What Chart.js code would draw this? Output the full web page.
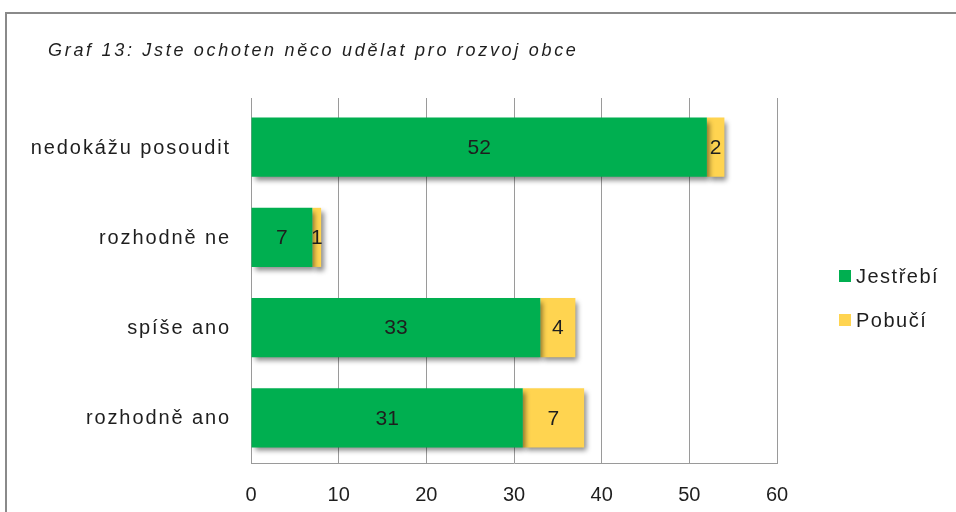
<!DOCTYPE html>
<html><head><meta charset="utf-8">
<script src="https://cdn.jsdelivr.net/npm/chart.js@4/dist/chart.umd.min.js"></script>
<style>
html,body{margin:0;padding:0;background:#fff;}
#wrap{position:relative;width:956px;height:512px;overflow:hidden;}
#frame{position:absolute;left:5px;top:12px;width:1000px;height:600px;border:2px solid #8a8a8a;box-sizing:border-box;}
canvas{position:absolute;left:0;top:0;}
</style></head>
<body><div id="wrap"><div id="frame"></div><canvas id="c" width="956" height="512"></canvas></div>
<script>
const titleText = 'Graf 13: Jste ochoten něco udělat pro rozvoj obce';
const categories = ['nedokážu posoudit', 'rozhodně ne', 'spíše ano', 'rozhodně ano'];
const seriesNames = ['Jestřebí', 'Pobučí'];
const jestrebi = [52, 7, 33, 31];
const pobuci = [2, 1, 4, 7];
const xTicks = [0, 10, 20, 30, 40, 50, 60];
const colors = ['#00AF50', '#FFD450'];
const FONT = '"Liberation Sans", Arial, sans-serif';
const TXT = '#1e1e1e';

function spaced(ctx, px) { if ('letterSpacing' in ctx) ctx.letterSpacing = px + 'px'; }

const shadowPlugin = {
  id: 'shadow',
  beforeDatasetDraw(chart) {
    const ctx = chart.ctx; ctx.save();
    ctx.shadowColor = 'rgba(0,0,0,0.45)';
    ctx.shadowOffsetX = 3; ctx.shadowOffsetY = 4; ctx.shadowBlur = 5;
  },
  afterDatasetDraw(chart) { chart.ctx.restore(); }
};
const labelPlugin = {
  id: 'vals',
  afterDatasetsDraw(chart) {
    const ctx = chart.ctx; ctx.save();
    ctx.font = '21px ' + FONT; ctx.fillStyle = TXT;
    ctx.textAlign = 'center'; ctx.textBaseline = 'middle';
    chart.data.datasets.forEach((ds, i) => {
      chart.getDatasetMeta(i).data.forEach((bar, j) => {
        const x = (bar.x + bar.base) / 2;
        ctx.fillText(String(ds.data[j]), x, bar.y + 1);
      });
    });
    ctx.restore();
  }
};
const decoPlugin = {
  id: 'deco',
  afterDraw(chart) {
    const ctx = chart.ctx; ctx.save();
    ctx.fillStyle = TXT; ctx.textBaseline = 'middle';
    // title
    ctx.font = 'italic 18px ' + FONT; ctx.textAlign = 'left';
    spaced(ctx, 2.7);
    ctx.fillText(titleText, 48, 51);
    // category labels via y scale
    ctx.font = '20px ' + FONT; ctx.textAlign = 'right';
    spaced(ctx, 1.9);
    const ys = chart.scales.y;
    categories.forEach((c, i) => {
      ctx.fillText(c, 231, ys.getPixelForTick(i) + 1);
    });
    // legend
    spaced(ctx, 1.5); ctx.textAlign = 'left';
    const ly = [276, 320];
    chart.data.datasets.forEach((ds, i) => {
      ctx.fillStyle = ds.backgroundColor;
      ctx.fillRect(839, ly[i] - 6, 12, 12);
      ctx.fillStyle = TXT;
      ctx.fillText(ds.label, 856, ly[i] + 1);
    });
    ctx.restore();
  }
};

new Chart(document.getElementById('c'), {
  type: 'bar',
  data: {
    labels: categories,
    datasets: [
      { label: seriesNames[0], data: jestrebi, backgroundColor: colors[0] },
      { label: seriesNames[1], data: pobuci, backgroundColor: colors[1] }
    ]
  },
  options: {
    indexAxis: 'y', responsive: false, animation: false, devicePixelRatio: 1,
    categoryPercentage: 1, barPercentage: 0.655,
    layout: { padding: { top: 98, right: 179, left: 0, bottom: 0 } },
    plugins: { legend: { display: false }, tooltip: { enabled: false }, title: { display: false } },
    scales: {
      x: {
        stacked: true, min: 0, max: 60,
        afterBuildTicks(s) { s.ticks = xTicks.map(v => ({ value: v })); },
        afterFit(s) { s.height = 49; },
        grid: { color: '#9a9a9a', drawTicks: false, lineWidth: 1 },
        border: { color: '#9a9a9a' },
        ticks: { font: { size: 20, family: FONT }, color: TXT, padding: 20 }
      },
      x2: {
        position: 'top', min: 0, max: 60,
        afterBuildTicks(s) { s.ticks = xTicks.map(v => ({ value: v })); },
        afterFit(s) { s.height = 4; },
        grid: { color: '#9a9a9a', drawOnChartArea: false, drawTicks: true, tickLength: 4, lineWidth: 1 },
        border: { display: false },
        ticks: { display: false }
      },
      y: {
        stacked: true,
        afterFit(s) { s.width = 251; },
        grid: { display: false, drawTicks: false },
        border: { display: true, color: '#9a9a9a' },
        ticks: { display: false }
      }
    }
  },
  plugins: [shadowPlugin, labelPlugin, decoPlugin]
});
</script></body></html>
